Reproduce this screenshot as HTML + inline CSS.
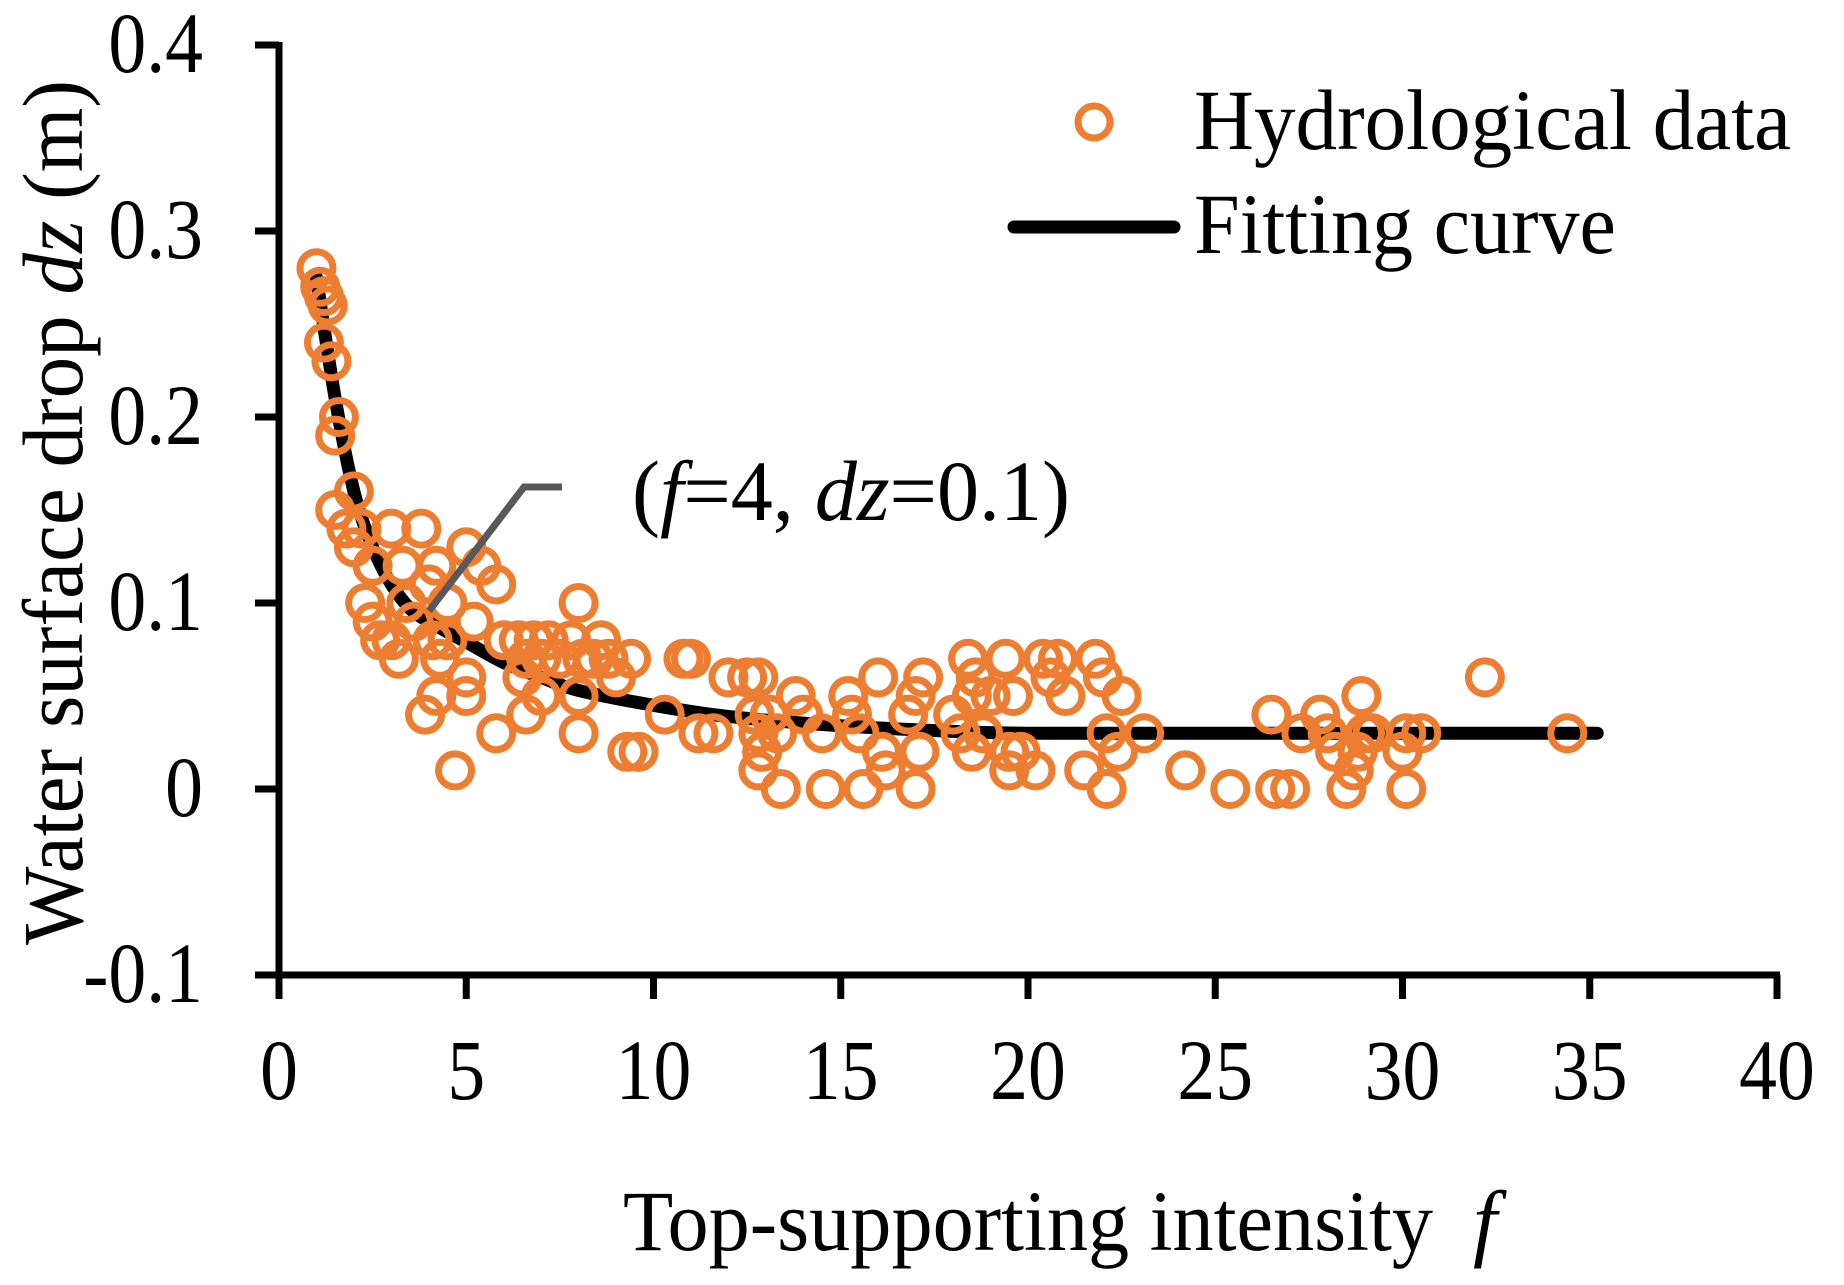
<!DOCTYPE html>
<html><head><meta charset="utf-8"><style>
html,body{margin:0;padding:0;background:#fff;}
svg{display:block;font-family:"Liberation Serif",serif;}
</style></head><body>
<svg id="chart" width="1844" height="1285" viewBox="0 0 1844 1285" xmlns="http://www.w3.org/2000/svg">
<rect width="1844" height="1285" fill="#fff"/>
<g id="marks"></g>
<g id="axes"></g>
<polyline points="429,611 524,487 562,487" fill="none" stroke="#595959" stroke-width="7"/>
<text x="632" y="520" font-size="86" textLength="438" lengthAdjust="spacingAndGlyphs">(<tspan font-style="italic">f</tspan>=4, <tspan font-style="italic">dz</tspan>=0.1)</text>
<g>
<circle cx="1094" cy="122" r="16" fill="none" stroke="#ED7D31" stroke-width="7"/>
<text x="1194" y="149" font-size="86" textLength="597" lengthAdjust="spacingAndGlyphs">Hydrological data</text>
<line x1="1014" y1="227" x2="1174" y2="227" stroke="#000" stroke-width="13" stroke-linecap="round"/>
<text x="1194" y="253" font-size="86" textLength="422" lengthAdjust="spacingAndGlyphs">Fitting curve</text>
</g>
<text x="623" y="1250" font-size="86" textLength="810" lengthAdjust="spacingAndGlyphs">Top-supporting intensity</text>
<text x="1473" y="1250" font-size="86" font-style="italic">f</text>
<text transform="translate(82,945) rotate(-90)" x="0" y="0" font-size="86" textLength="865" lengthAdjust="spacingAndGlyphs">Water surface drop <tspan font-style="italic">dz</tspan> (m)</text>
</svg>
<script>
const xTicks = [0,5,10,15,20,25,30,35,40];
const yTicks = [0.4,0.3,0.2,0.1,0,-0.1];
const yTickLabels = ["0.4","0.3","0.2","0.1","0","-0.1"];
const obsF = [1.0,1.1,1.2,1.3,1.2,1.4,1.6,1.5,2.0,1.5,1.8,2.0,2.2,2.5,3.0,3.8,2.3,2.5,2.7,3.0,3.2,3.3,3.4,3.6,4.2,4.0,4.5,5.0,5.4,5.8,4.1,4.3,4.5,5.2,5.0,5.0,3.9,4.2,4.7,5.8,6.0,6.4,6.6,6.8,7.0,7.2,6.5,6.6,7.0,7.5,7.8,8.0,8.1,8.4,8.6,8.8,9.0,9.4,8.0,8.0,9.3,9.6,10.3,10.8,11.0,11.2,11.6,12.0,12.5,12.8,12.7,12.8,12.8,12.9,13.1,13.3,13.4,13.8,14.0,14.5,14.6,15.2,15.3,15.5,15.6,16.0,16.1,16.2,16.8,17.0,17.2,17.1,17.0,18.0,18.2,18.4,18.5,18.6,18.8,18.5,19.0,19.4,19.5,19.5,19.6,19.8,20.2,20.4,20.6,20.8,21.0,21.5,21.8,22.0,22.1,22.1,22.4,22.5,23.1,24.2,25.4,26.5,26.6,27.0,27.3,27.8,28.0,28.2,28.5,28.7,28.9,29.0,29.2,28.8,30.0,30.1,30.1,30.5,32.2,34.4];
const obsDz = [0.28,0.27,0.265,0.26,0.24,0.23,0.2,0.19,0.16,0.15,0.14,0.13,0.14,0.12,0.14,0.14,0.10,0.09,0.08,0.08,0.07,0.12,0.10,0.09,0.12,0.11,0.10,0.13,0.12,0.11,0.08,0.07,0.08,0.09,0.06,0.05,0.04,0.05,0.01,0.03,0.08,0.08,0.07,0.08,0.07,0.08,0.06,0.04,0.05,0.07,0.08,0.10,0.07,0.07,0.08,0.07,0.06,0.07,0.05,0.03,0.02,0.02,0.04,0.07,0.07,0.03,0.03,0.06,0.06,0.06,0.04,0.03,0.01,0.02,0.04,0.03,0.0,0.05,0.04,0.03,0.0,0.05,0.04,0.03,0.0,0.06,0.02,0.01,0.04,0.05,0.06,0.02,0.0,0.04,0.03,0.07,0.05,0.06,0.03,0.02,0.05,0.07,0.02,0.01,0.05,0.02,0.01,0.07,0.06,0.07,0.05,0.01,0.07,0.06,0.03,0.0,0.02,0.05,0.03,0.01,0.0,0.04,0.0,0.0,0.03,0.04,0.03,0.02,0.0,0.01,0.05,0.03,0.03,0.02,0.02,0.03,0.0,0.03,0.06,0.03];
const fitF = [1,1.5,2,2.5,3,3.5,4,5,6,7,8,10,12,15,18,20,25,30,35.2];
const fitDz = [0.275,0.21,0.16,0.13,0.11,0.097,0.09,0.079,0.068,0.06,0.053,0.045,0.039,0.034,0.031,0.03,0.03,0.03,0.03];

const NS = "http://www.w3.org/2000/svg";
const X0 = 279, XS = 37.45, Y0 = 45, YS = 1860;
function xs(f){ return X0 + XS*f; }
function ys(v){ return Y0 + (0.4 - v)*YS; }
function mk(tag, attrs, parent){
  const e = document.createElementNS(NS, tag);
  for (const k in attrs) e.setAttribute(k, attrs[k]);
  parent.appendChild(e);
  return e;
}
const axes = document.getElementById('axes');
const marks = document.getElementById('marks');

let yl = mk('line', {x1:xs(0), y1:ys(0.4)-3, x2:xs(0), y2:ys(-0.1)+24, stroke:'#000', 'stroke-width':7}, axes);


let xl = mk('line', {x1:xs(0)-24, y1:ys(-0.1), x2:xs(40)+3, y2:ys(-0.1), stroke:'#000', 'stroke-width':7}, axes);



yTicks.forEach((v, i) => {
  const t = mk('line', {x1:xs(0)-24, y1:ys(v), x2:xs(0), y2:ys(v), stroke:'#000', 'stroke-width':7}, axes);
  
  
  const lb = mk('text', {transform:`translate(203,${ys(v)+27}) scale(0.88,1)`, 'text-anchor':'end', 'font-size':86}, axes);
  lb.textContent = yTickLabels[i];
  
  
});
xTicks.forEach(f => {
  const t = mk('line', {x1:xs(f), y1:ys(-0.1), x2:xs(f), y2:ys(-0.1)+24, stroke:'#000', 'stroke-width':7}, axes);
  
  
  const lb = mk('text', {transform:`translate(${xs(f)},1099) scale(0.88,1)`, 'text-anchor':'middle', 'font-size':86}, axes);
  lb.textContent = String(f);
  
  
});

const P = fitF.map((f,i) => [xs(f), ys(fitDz[i])]);
let d = `M${P[0][0]},${P[0][1]}`;
for (let i = 0; i < P.length-1; i++){
  const p0 = P[Math.max(0,i-1)], p1 = P[i], p2 = P[i+1], p3 = P[Math.min(P.length-1,i+2)];
  const c1 = [p1[0]+(p2[0]-p0[0])/6, p1[1]+(p2[1]-p0[1])/6];
  const c2 = [p2[0]-(p3[0]-p1[0])/6, p2[1]-(p3[1]-p1[1])/6];
  d += ` C${c1[0]},${c1[1]} ${c2[0]},${c2[1]} ${p2[0]},${p2[1]}`;
}
const curve = mk('path', {d:d, fill:'none', stroke:'#000', 'stroke-width':13, 'stroke-linecap':'round', 'stroke-linejoin':'round'}, marks);



obsF.forEach((f, i) => {
  const c = mk('circle', {cx:xs(f), cy:ys(obsDz[i]), r:16.5, fill:'none', stroke:'#ED7D31', 'stroke-width':7}, marks);
  
  
});
</script>
</body></html>
